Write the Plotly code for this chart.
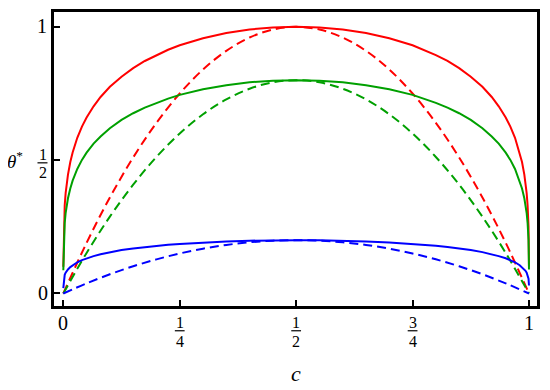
import plotly.graph_objects as go

# ---- data ----
c_solid = [0.0, 0.001, 0.002, 0.003, 0.005, 0.0075, 0.01, 0.015, 0.02, 0.03, 0.04, 0.05, 0.065, 0.08, 0.1,
           0.125, 0.15, 0.175, 0.2, 0.225, 0.25, 0.3, 0.35, 0.4, 0.45, 0.5,
           0.55, 0.6, 0.65, 0.7, 0.75, 0.775, 0.8, 0.825, 0.85, 0.875, 0.9,
           0.92, 0.935, 0.95, 0.96, 0.97, 0.98, 0.985, 0.99, 0.9925, 0.995, 0.997, 0.998, 0.999, 1.0]
red_solid = [0.10, 0.251, 0.299, 0.331, 0.376, 0.415, 0.446, 0.493, 0.529, 0.584, 0.626, 0.660, 0.702, 0.737, 0.775,
             0.813, 0.845, 0.872, 0.894, 0.914, 0.931, 0.957, 0.977, 0.990, 0.998, 1.000,
             0.998, 0.990, 0.977, 0.957, 0.931, 0.914, 0.894, 0.872, 0.845, 0.813, 0.775,
             0.737, 0.702, 0.660, 0.626, 0.584, 0.529, 0.493, 0.446, 0.415, 0.376, 0.331, 0.299, 0.251, 0.10]
green_solid = [0.087, 0.201, 0.239, 0.265, 0.301, 0.332, 0.357, 0.394, 0.423, 0.467, 0.501, 0.528, 0.562, 0.589, 0.620,
               0.651, 0.676, 0.697, 0.715, 0.731, 0.745, 0.766, 0.781, 0.792, 0.798, 0.800,
               0.798, 0.792, 0.781, 0.766, 0.745, 0.731, 0.715, 0.697, 0.676, 0.651, 0.620,
               0.589, 0.562, 0.528, 0.501, 0.467, 0.423, 0.394, 0.357, 0.332, 0.301, 0.265, 0.239, 0.201, 0.090]
blue_solid = [0.020, 0.055, 0.064, 0.070, 0.078, 0.085, 0.090, 0.099, 0.106, 0.117, 0.125, 0.132, 0.140, 0.147, 0.155,
              0.163, 0.169, 0.174, 0.179, 0.183, 0.186, 0.191, 0.195, 0.198, 0.200, 0.200,
              0.200, 0.198, 0.195, 0.191, 0.186, 0.183, 0.179, 0.174, 0.169, 0.163, 0.155,
              0.147, 0.140, 0.132, 0.125, 0.117, 0.106, 0.099, 0.090, 0.085, 0.078, 0.070, 0.064, 0.055, 0.030]

c_dash = [0.0, 0.05, 0.1, 0.15, 0.2, 0.25, 0.3, 0.35, 0.4, 0.45, 0.5, 0.55, 0.6, 0.65, 0.7, 0.75, 0.8, 0.85, 0.9, 0.95, 1.0]
red_dash = [0.0, 0.19, 0.36, 0.51, 0.64, 0.75, 0.84, 0.91, 0.96, 0.99, 1.00, 0.99, 0.96, 0.91, 0.84, 0.75, 0.64, 0.51, 0.36, 0.19, 0.0]
green_dash = [0.0, 0.152, 0.288, 0.408, 0.512, 0.60, 0.672, 0.728, 0.768, 0.792, 0.80, 0.792, 0.768, 0.728, 0.672, 0.60, 0.512, 0.408, 0.288, 0.152, 0.0]
blue_dash = [0.0, 0.038, 0.072, 0.102, 0.128, 0.15, 0.168, 0.182, 0.192, 0.198, 0.20, 0.198, 0.192, 0.182, 0.168, 0.15, 0.128, 0.102, 0.072, 0.038, 0.0]

x_ticks = [0, 0.25, 0.5, 0.75, 1]
x_tick_num = ["0", "1", "1", "3", "1"]
x_tick_den = [None, "4", "2", "4", None]
y_ticks = [0, 0.5, 1]

RED = "#ff0000"
GREEN = "#00a000"
BLUE = "#0000ff"
DASH = "9px,5px"
FONT = "Liberation Serif"
BIG = 20
SMALL = 16

fig = go.Figure()
series = [
    (c_solid, red_solid, RED, "solid", "linear"),
    (c_dash, red_dash, RED, DASH, "spline"),
    (c_solid, green_solid, GREEN, "solid", "linear"),
    (c_dash, green_dash, GREEN, DASH, "spline"),
    (c_solid, blue_solid, BLUE, "solid", "linear"),
    (c_dash, blue_dash, BLUE, DASH, "spline"),
]
for xs, ys, col, dash, shape in series:
    fig.add_trace(go.Scatter(x=xs, y=ys, mode="lines",
                             line=dict(color=col, width=2, dash=dash, shape=shape),
                             showlegend=False, hoverinfo="skip"))

axis_common = dict(showgrid=False, zeroline=False, showline=True, mirror=True,
                   linecolor="black", linewidth=2.5, ticks="inside", ticklen=6,
                   tickwidth=2, tickcolor="black", showticklabels=False)
fig.update_xaxes(range=[-0.020, 1.0172], tickvals=x_ticks, **axis_common)
fig.update_yaxes(range=[-0.047, 1.0557], tickvals=y_ticks, **axis_common)

ann = []
shapes = []
for xv, num, den in zip(x_ticks, x_tick_num, x_tick_den):
    if den is None:
        ann.append(dict(x=xv, xref="x", y=0, yref="paper", yshift=-16.5, text=num, showarrow=False,
                        xanchor="center", yanchor="middle", font=dict(family=FONT, size=BIG, color="black")))
    else:
        ann.append(dict(x=xv, xref="x", y=0, yref="paper", yshift=-16.5, text=num, showarrow=False,
                        xanchor="center", yanchor="middle", font=dict(family=FONT, size=SMALL, color="black")))
        ann.append(dict(x=xv, xref="x", y=0, yref="paper", yshift=-35.5, text=den, showarrow=False,
                        xanchor="center", yanchor="middle", font=dict(family=FONT, size=SMALL, color="black")))
        shapes.append(dict(type="line", xref="x", yref="paper", x0=xv - 0.0105, x1=xv + 0.0105,
                           y0=-0.0842, y1=-0.0842, line=dict(color="black", width=1.2)))

# y tick labels
ann.append(dict(x=0, xref="paper", xshift=-5, y=1, yref="y", yshift=1, text="1", showarrow=False,
                xanchor="right", yanchor="middle", font=dict(family=FONT, size=BIG, color="black")))
ann.append(dict(x=0, xref="paper", xshift=-4.5, y=0, yref="y", text="0", showarrow=False,
                xanchor="right", yanchor="middle", font=dict(family=FONT, size=BIG, color="black")))
ann.append(dict(x=0, xref="paper", xshift=-11.5, y=0.5, yref="y", yshift=5.3, text="1", showarrow=False,
                xanchor="center", yanchor="middle", font=dict(family=FONT, size=SMALL, color="black")))
ann.append(dict(x=0, xref="paper", xshift=-11.5, y=0.5, yref="y", yshift=-12.7, text="2", showarrow=False,
                xanchor="center", yanchor="middle", font=dict(family=FONT, size=SMALL, color="black")))
shapes.append(dict(type="line", xref="paper", yref="y", x0=-0.0342, x1=-0.0135,
                   y0=0.490, y1=0.490, line=dict(color="black", width=1.2)))

# axis titles
ann.append(dict(x=0, xref="paper", xshift=-39, y=0.5, yref="y", text="<i>θ</i><sup>*</sup>", showarrow=False,
                xanchor="center", yanchor="middle", font=dict(family=FONT, size=19, color="black")))
ann.append(dict(x=0.5, xref="x", y=0, yref="paper", yshift=-67, text="<i>c</i>", showarrow=False,
                xanchor="center", yanchor="middle", font=dict(family=FONT, size=22, color="black")))

# page body has an 8px margin, so the figure is sized/offset to compensate
fig.update_layout(width=542, height=382, margin=dict(l=46, r=13, t=1, b=84),
                  plot_bgcolor="white", paper_bgcolor="white",
                  annotations=ann, shapes=shapes)

fig.write_html("out.html")
